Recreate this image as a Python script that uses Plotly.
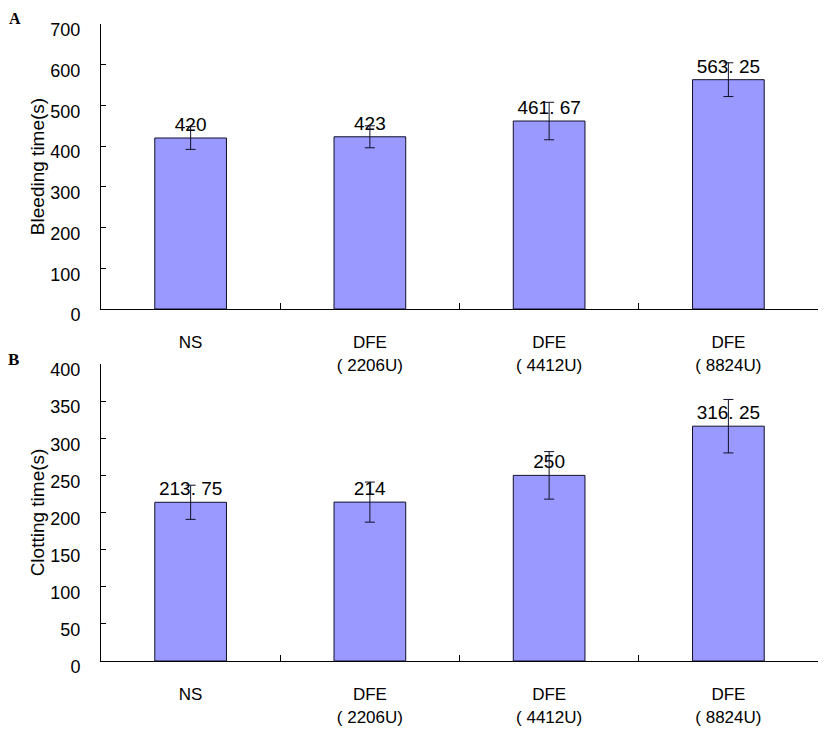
import plotly.graph_objects as go
from plotly.subplots import make_subplots

groups = ["NS", "DFE<br>( 2206U)", "DFE<br>( 4412U)", "DFE<br>( 8824U)"]

bleeding = [420, 423, 461.67, 563.25]
bleeding_err = [28, 27, 46, 41.5]

clotting = [213.75, 214, 250, 316.25]
clotting_err = [23, 27, 32, 36]

W, H = 827, 742
OFF = 8  # page body margin, the figure starts 8px in from the corner
font = "Liberation Sans, Arial, sans-serif"
bar_color = "#9999FF"


def lab(v):
    # labels in the source have a space after the decimal point
    return f"{v:g}".replace(".", ". ")


def px_x(p):
    return (p - OFF) / W


def px_y(p):
    return 1 - (p - OFF) / H


fig = make_subplots(rows=2, cols=1)

for row, vals, errs in [(1, bleeding, bleeding_err), (2, clotting, clotting_err)]:
    fig.add_trace(go.Bar(
        x=groups, y=vals,
        marker=dict(color=bar_color, line=dict(color="#10102a", width=1)),
        error_y=dict(type="data", array=errs, visible=True, color="#10102a", thickness=1, width=5),
        text=[lab(v) for v in vals], textposition="outside", constraintext="none",
        textfont=dict(family=font, size=19, color="black"),
        cliponaxis=False, showlegend=False,
    ), row=row, col=1)

# pixel boxes of the two plot areas
xdom = [px_x(101), px_x(818)]
ydom1 = [px_y(309), px_y(24)]
ydom2 = [px_y(661), px_y(364)]

xax = dict(domain=xdom, showline=True, linecolor="black", linewidth=1, showgrid=False,
           ticks="inside", ticklen=6, tickcolor="black", tickson="boundaries",
           tickfont=dict(family=font, size=17, color="black"), ticklabelstandoff=18,
           automargin=False)
fig.update_layout(xaxis=dict(xax), xaxis2=dict(xax))

yax = dict(showline=True, linecolor="black", linewidth=1, showgrid=False, zeroline=False,
           ticks="inside", ticklen=5, tickcolor="black",
           tickfont=dict(family=font, size=18, color="black"), ticklabelstandoff=16,
           ticklabelshift=6, automargin=False)
fig.update_layout(
    yaxis=dict(yax, domain=ydom1, range=[0, 700], dtick=100,
               title=dict(text="Bleeding time(s)", font=dict(family=font, size=19, color="black"), standoff=0)),
    yaxis2=dict(yax, domain=ydom2, range=[0, 400], dtick=50,
                title=dict(text="Clotting time(s)", font=dict(family=font, size=19, color="black"), standoff=0)),
)

serif = "Liberation Serif, Times New Roman, serif"
fig.add_annotation(text="<b>A</b>", x=px_x(15), y=px_y(19), xref="paper", yref="paper",
                   xanchor="center", yanchor="middle",
                   showarrow=False, font=dict(family=serif, size=16, color="black"))
fig.add_annotation(text="<b>B</b>", x=px_x(13), y=px_y(359), xref="paper", yref="paper",
                   xanchor="center", yanchor="middle",
                   showarrow=False, font=dict(family=serif, size=17, color="black"))

fig.update_layout(
    width=W, height=H, bargap=0.6,
    margin=dict(l=0, r=0, t=0, b=0),
    plot_bgcolor="white", paper_bgcolor="white",
)

fig.write_html("out.html")
